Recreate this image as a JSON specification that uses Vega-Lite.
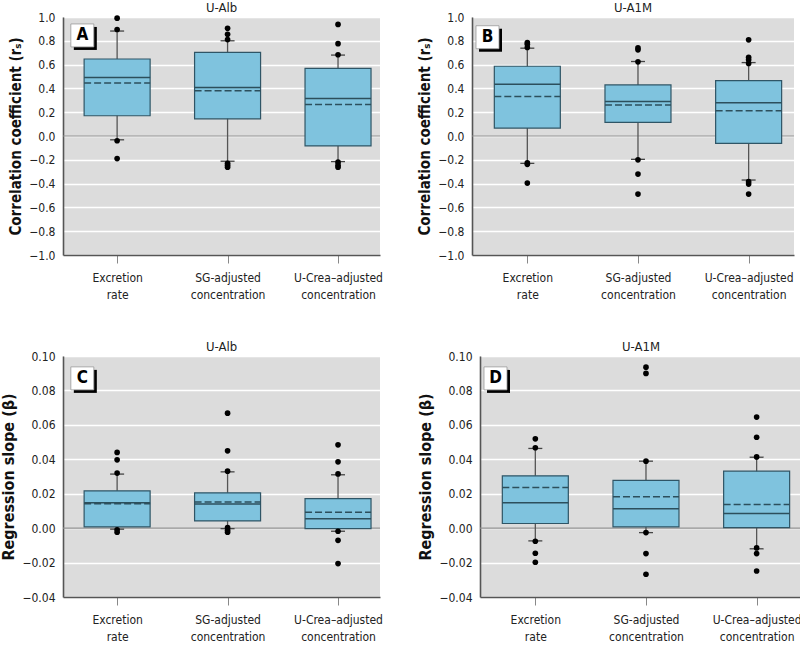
{
  "$schema": "https://vega.github.io/schema/vega-lite/v6.json",
  "background": "white",
  "padding": {"left": 0, "top": 2, "right": 0, "bottom": 0},
  "spacing": 41,
  "datasets": {
    "stats": [
      {"panel": "A", "cat": "Excretion rate", "lo": -0.032, "q1": 0.170, "med": 0.492, "mean": 0.445, "q3": 0.647, "hi": 0.882},
      {"panel": "A", "cat": "SG-adjusted concentration", "lo": -0.212, "q1": 0.144, "med": 0.408, "mean": 0.380, "q3": 0.703, "hi": 0.800},
      {"panel": "A", "cat": "U-Crea–adjusted concentration", "lo": -0.215, "q1": -0.083, "med": 0.316, "mean": 0.265, "q3": 0.568, "hi": 0.680},
      {"panel": "B", "cat": "Excretion rate", "lo": -0.230, "q1": 0.067, "med": 0.435, "mean": 0.331, "q3": 0.586, "hi": 0.738},
      {"panel": "B", "cat": "SG-adjusted concentration", "lo": -0.196, "q1": 0.115, "med": 0.289, "mean": 0.261, "q3": 0.429, "hi": 0.626},
      {"panel": "B", "cat": "U-Crea–adjusted concentration", "lo": -0.370, "q1": -0.062, "med": 0.280, "mean": 0.213, "q3": 0.466, "hi": 0.617},
      {"panel": "C", "cat": "Excretion rate", "lo": -0.0006, "q1": 0.0007, "med": 0.0147, "mean": 0.0141, "q3": 0.0217, "hi": 0.0314},
      {"panel": "C", "cat": "SG-adjusted concentration", "lo": -0.0003, "q1": 0.0042, "med": 0.0140, "mean": 0.0152, "q3": 0.0205, "hi": 0.0327},
      {"panel": "C", "cat": "U-Crea–adjusted concentration", "lo": -0.0018, "q1": -0.0003, "med": 0.0054, "mean": 0.0092, "q3": 0.0172, "hi": 0.0310},
      {"panel": "D", "cat": "Excretion rate", "lo": -0.0074, "q1": 0.0027, "med": 0.0147, "mean": 0.0236, "q3": 0.0304, "hi": 0.0463},
      {"panel": "D", "cat": "SG-adjusted concentration", "lo": -0.0026, "q1": 0.0007, "med": 0.0112, "mean": 0.0182, "q3": 0.0277, "hi": 0.0389},
      {"panel": "D", "cat": "U-Crea–adjusted concentration", "lo": -0.0120, "q1": 0.0003, "med": 0.0085, "mean": 0.0137, "q3": 0.0331, "hi": 0.0412}
    ],
    "outliers": [
      {"panel": "A", "cat": "Excretion rate", "v": 0.99},
      {"panel": "A", "cat": "Excretion rate", "v": 0.895},
      {"panel": "A", "cat": "Excretion rate", "v": -0.04},
      {"panel": "A", "cat": "Excretion rate", "v": -0.19},
      {"panel": "A", "cat": "SG-adjusted concentration", "v": 0.905},
      {"panel": "A", "cat": "SG-adjusted concentration", "v": 0.854},
      {"panel": "A", "cat": "SG-adjusted concentration", "v": 0.81},
      {"panel": "A", "cat": "SG-adjusted concentration", "v": -0.229},
      {"panel": "A", "cat": "SG-adjusted concentration", "v": -0.245},
      {"panel": "A", "cat": "SG-adjusted concentration", "v": -0.262},
      {"panel": "A", "cat": "U-Crea–adjusted concentration", "v": 0.938},
      {"panel": "A", "cat": "U-Crea–adjusted concentration", "v": 0.776},
      {"panel": "A", "cat": "U-Crea–adjusted concentration", "v": 0.683},
      {"panel": "A", "cat": "U-Crea–adjusted concentration", "v": -0.22},
      {"panel": "A", "cat": "U-Crea–adjusted concentration", "v": -0.245},
      {"panel": "A", "cat": "U-Crea–adjusted concentration", "v": -0.262},
      {"panel": "B", "cat": "Excretion rate", "v": 0.785},
      {"panel": "B", "cat": "Excretion rate", "v": 0.77},
      {"panel": "B", "cat": "Excretion rate", "v": 0.744},
      {"panel": "B", "cat": "Excretion rate", "v": -0.225},
      {"panel": "B", "cat": "Excretion rate", "v": -0.238},
      {"panel": "B", "cat": "Excretion rate", "v": -0.396},
      {"panel": "B", "cat": "SG-adjusted concentration", "v": 0.74},
      {"panel": "B", "cat": "SG-adjusted concentration", "v": 0.724},
      {"panel": "B", "cat": "SG-adjusted concentration", "v": 0.623},
      {"panel": "B", "cat": "SG-adjusted concentration", "v": -0.2},
      {"panel": "B", "cat": "SG-adjusted concentration", "v": -0.32},
      {"panel": "B", "cat": "SG-adjusted concentration", "v": -0.488},
      {"panel": "B", "cat": "U-Crea–adjusted concentration", "v": 0.808},
      {"panel": "B", "cat": "U-Crea–adjusted concentration", "v": 0.662},
      {"panel": "B", "cat": "U-Crea–adjusted concentration", "v": 0.64},
      {"panel": "B", "cat": "U-Crea–adjusted concentration", "v": 0.61},
      {"panel": "B", "cat": "U-Crea–adjusted concentration", "v": -0.384},
      {"panel": "B", "cat": "U-Crea–adjusted concentration", "v": -0.404},
      {"panel": "B", "cat": "U-Crea–adjusted concentration", "v": -0.488},
      {"panel": "C", "cat": "Excretion rate", "v": 0.044},
      {"panel": "C", "cat": "Excretion rate", "v": 0.0397},
      {"panel": "C", "cat": "Excretion rate", "v": 0.032},
      {"panel": "C", "cat": "Excretion rate", "v": -0.001},
      {"panel": "C", "cat": "Excretion rate", "v": -0.0024},
      {"panel": "C", "cat": "SG-adjusted concentration", "v": 0.0668},
      {"panel": "C", "cat": "SG-adjusted concentration", "v": 0.0449},
      {"panel": "C", "cat": "SG-adjusted concentration", "v": 0.0331},
      {"panel": "C", "cat": "SG-adjusted concentration", "v": 0.0003},
      {"panel": "C", "cat": "SG-adjusted concentration", "v": -0.0012},
      {"panel": "C", "cat": "SG-adjusted concentration", "v": -0.0024},
      {"panel": "C", "cat": "U-Crea–adjusted concentration", "v": 0.0484},
      {"panel": "C", "cat": "U-Crea–adjusted concentration", "v": 0.0385},
      {"panel": "C", "cat": "U-Crea–adjusted concentration", "v": 0.0315},
      {"panel": "C", "cat": "U-Crea–adjusted concentration", "v": -0.0018},
      {"panel": "C", "cat": "U-Crea–adjusted concentration", "v": -0.0071},
      {"panel": "C", "cat": "U-Crea–adjusted concentration", "v": -0.0206},
      {"panel": "D", "cat": "Excretion rate", "v": 0.0519},
      {"panel": "D", "cat": "Excretion rate", "v": 0.0467},
      {"panel": "D", "cat": "Excretion rate", "v": -0.0076},
      {"panel": "D", "cat": "Excretion rate", "v": -0.0146},
      {"panel": "D", "cat": "Excretion rate", "v": -0.0198},
      {"panel": "D", "cat": "SG-adjusted concentration", "v": 0.0935},
      {"panel": "D", "cat": "SG-adjusted concentration", "v": 0.0899},
      {"panel": "D", "cat": "SG-adjusted concentration", "v": 0.0389},
      {"panel": "D", "cat": "SG-adjusted concentration", "v": -0.0026},
      {"panel": "D", "cat": "SG-adjusted concentration", "v": -0.0148},
      {"panel": "D", "cat": "SG-adjusted concentration", "v": -0.0268},
      {"panel": "D", "cat": "U-Crea–adjusted concentration", "v": 0.0645},
      {"panel": "D", "cat": "U-Crea–adjusted concentration", "v": 0.0528},
      {"panel": "D", "cat": "U-Crea–adjusted concentration", "v": 0.0414},
      {"panel": "D", "cat": "U-Crea–adjusted concentration", "v": -0.0115},
      {"panel": "D", "cat": "U-Crea–adjusted concentration", "v": -0.0148},
      {"panel": "D", "cat": "U-Crea–adjusted concentration", "v": -0.0249}
    ]
  },
  "vconcat": [
    {
      "hconcat": [
        {
          "width": 317, "height": 238,
          "title": "U-Alb",
          "layer": [
            {"data": {"values": [{}]}, "mark": {"type": "rule", "color": "#8c8c8c", "strokeWidth": 1.2}, "encoding": {"y": {"datum": 0, "type": "quantitative"}}},
            {"data": {"name": "stats"}, "transform": [{"filter": "datum.panel == 'A'"}, {"calculate": "indexof(['Excretion rate','SG-adjusted concentration','U-Crea–adjusted concentration'], datum.cat) + 1", "as": "pos"}],
             "mark": {"type": "rule", "color": "#555555", "strokeWidth": 1.3},
             "encoding": {
               "x": {"field": "pos", "type": "quantitative", "scale": {"domain": [0.51, 3.38], "nice": false, "zero": false, "padding": 0},
                     "axis": {"values": [1, 2, 3], "tickCount": 10, "labelExpr": "datum.value == 1 ? ['Excretion', 'rate'] : datum.value == 2 ? ['SG-adjusted', 'concentration'] : ['U-Crea–adjusted', 'concentration']"}},
               "y": {"field": "lo", "type": "quantitative", "scale": {"domain": [-1, 1], "nice": false, "zero": false, "padding": 0},
                     "axis": {"values": [-1, -0.8, -0.6, -0.4, -0.2, 0, 0.2, 0.4, 0.6, 0.8, 1], "tickCount": 30, "format": ".1f", "title": "Correlation coefficient (rₛ)"}},
               "y2": {"field": "hi"}
             }},
            {"data": {"name": "stats"}, "transform": [{"filter": "datum.panel == 'A'"}, {"calculate": "indexof(['Excretion rate','SG-adjusted concentration','U-Crea–adjusted concentration'], datum.cat) + 1", "as": "pos"}],
             "mark": {"type": "rule", "color": "#444444", "strokeWidth": 1.3, "xOffset": -7, "x2Offset": 7},
             "encoding": {"x": {"field": "pos", "type": "quantitative"}, "x2": {"field": "pos"}, "y": {"field": "hi", "type": "quantitative"}}},
            {"data": {"name": "stats"}, "transform": [{"filter": "datum.panel == 'A'"}, {"calculate": "indexof(['Excretion rate','SG-adjusted concentration','U-Crea–adjusted concentration'], datum.cat) + 1", "as": "pos"}],
             "mark": {"type": "rule", "color": "#444444", "strokeWidth": 1.3, "xOffset": -7, "x2Offset": 7},
             "encoding": {"x": {"field": "pos", "type": "quantitative"}, "x2": {"field": "pos"}, "y": {"field": "lo", "type": "quantitative"}}},
            {"data": {"name": "stats"}, "transform": [{"filter": "datum.panel == 'A'"}, {"calculate": "indexof(['Excretion rate','SG-adjusted concentration','U-Crea–adjusted concentration'], datum.cat) + 1", "as": "pos"}],
             "mark": {"type": "bar", "width": 66, "fill": "#7fc3de", "stroke": "#2f5566", "strokeWidth": 1.2},
             "encoding": {"x": {"field": "pos", "type": "quantitative"}, "y": {"field": "q1", "type": "quantitative"}, "y2": {"field": "q3"}}},
            {"data": {"name": "stats"}, "transform": [{"filter": "datum.panel == 'A'"}, {"calculate": "indexof(['Excretion rate','SG-adjusted concentration','U-Crea–adjusted concentration'], datum.cat) + 1", "as": "pos"}],
             "mark": {"type": "rule", "color": "#2c4f5c", "strokeWidth": 1.5, "xOffset": -33, "x2Offset": 33},
             "encoding": {"x": {"field": "pos", "type": "quantitative"}, "x2": {"field": "pos"}, "y": {"field": "med", "type": "quantitative"}}},
            {"data": {"name": "stats"}, "transform": [{"filter": "datum.panel == 'A'"}, {"calculate": "indexof(['Excretion rate','SG-adjusted concentration','U-Crea–adjusted concentration'], datum.cat) + 1", "as": "pos"}],
             "mark": {"type": "rule", "color": "#2c4f5c", "strokeWidth": 1.5, "strokeDash": [7, 3], "xOffset": -33, "x2Offset": 33},
             "encoding": {"x": {"field": "pos", "type": "quantitative"}, "x2": {"field": "pos"}, "y": {"field": "mean", "type": "quantitative"}}},
            {"data": {"name": "outliers"}, "transform": [{"filter": "datum.panel == 'A'"}, {"calculate": "indexof(['Excretion rate','SG-adjusted concentration','U-Crea–adjusted concentration'], datum.cat) + 1", "as": "pos"}],
             "mark": {"type": "point", "filled": true, "color": "black", "size": 32, "opacity": 1},
             "encoding": {"x": {"field": "pos", "type": "quantitative"}, "y": {"field": "v", "type": "quantitative"}}},
            {"data": {"values": [{}]}, "mark": {"type": "point", "shape": "square", "size": 529, "filled": true, "color": "black", "opacity": 1, "xOffset": 3, "yOffset": 3},
             "encoding": {"x": {"datum": 0.685, "type": "quantitative"}, "y": {"datum": 0.845, "type": "quantitative"}}},
            {"data": {"values": [{}]}, "mark": {"type": "point", "shape": "square", "size": 529, "filled": true, "fill": "white", "stroke": "#999999", "strokeWidth": 0.8, "opacity": 1},
             "encoding": {"x": {"datum": 0.685, "type": "quantitative"}, "y": {"datum": 0.845, "type": "quantitative"}}},
            {"data": {"values": [{}]}, "mark": {"type": "text", "text": "A", "fontSize": 17, "fontWeight": "bold", "color": "black", "baseline": "middle", "align": "center"},
             "encoding": {"x": {"datum": 0.685, "type": "quantitative"}, "y": {"datum": 0.845, "type": "quantitative"}}}
          ]
        },
        {
          "width": 322, "height": 238,
          "title": "U-A1M",
          "layer": [
            {"data": {"values": [{}]}, "mark": {"type": "rule", "color": "#8c8c8c", "strokeWidth": 1.2}, "encoding": {"y": {"datum": 0, "type": "quantitative"}}},
            {"data": {"name": "stats"}, "transform": [{"filter": "datum.panel == 'B'"}, {"calculate": "indexof(['Excretion rate','SG-adjusted concentration','U-Crea–adjusted concentration'], datum.cat) + 1", "as": "pos"}],
             "mark": {"type": "rule", "color": "#555555", "strokeWidth": 1.3},
             "encoding": {
               "x": {"field": "pos", "type": "quantitative", "scale": {"domain": [0.5, 3.41], "nice": false, "zero": false, "padding": 0},
                     "axis": {"values": [1, 2, 3], "tickCount": 10, "labelExpr": "datum.value == 1 ? ['Excretion', 'rate'] : datum.value == 2 ? ['SG-adjusted', 'concentration'] : ['U-Crea–adjusted', 'concentration']"}},
               "y": {"field": "lo", "type": "quantitative", "scale": {"domain": [-1, 1], "nice": false, "zero": false, "padding": 0},
                     "axis": {"values": [-1, -0.8, -0.6, -0.4, -0.2, 0, 0.2, 0.4, 0.6, 0.8, 1], "tickCount": 30, "format": ".1f", "title": "Correlation coefficient (rₛ)"}},
               "y2": {"field": "hi"}
             }},
            {"data": {"name": "stats"}, "transform": [{"filter": "datum.panel == 'B'"}, {"calculate": "indexof(['Excretion rate','SG-adjusted concentration','U-Crea–adjusted concentration'], datum.cat) + 1", "as": "pos"}],
             "mark": {"type": "rule", "color": "#444444", "strokeWidth": 1.3, "xOffset": -7, "x2Offset": 7},
             "encoding": {"x": {"field": "pos", "type": "quantitative"}, "x2": {"field": "pos"}, "y": {"field": "hi", "type": "quantitative"}}},
            {"data": {"name": "stats"}, "transform": [{"filter": "datum.panel == 'B'"}, {"calculate": "indexof(['Excretion rate','SG-adjusted concentration','U-Crea–adjusted concentration'], datum.cat) + 1", "as": "pos"}],
             "mark": {"type": "rule", "color": "#444444", "strokeWidth": 1.3, "xOffset": -7, "x2Offset": 7},
             "encoding": {"x": {"field": "pos", "type": "quantitative"}, "x2": {"field": "pos"}, "y": {"field": "lo", "type": "quantitative"}}},
            {"data": {"name": "stats"}, "transform": [{"filter": "datum.panel == 'B'"}, {"calculate": "indexof(['Excretion rate','SG-adjusted concentration','U-Crea–adjusted concentration'], datum.cat) + 1", "as": "pos"}],
             "mark": {"type": "bar", "width": 66, "fill": "#7fc3de", "stroke": "#2f5566", "strokeWidth": 1.2},
             "encoding": {"x": {"field": "pos", "type": "quantitative"}, "y": {"field": "q1", "type": "quantitative"}, "y2": {"field": "q3"}}},
            {"data": {"name": "stats"}, "transform": [{"filter": "datum.panel == 'B'"}, {"calculate": "indexof(['Excretion rate','SG-adjusted concentration','U-Crea–adjusted concentration'], datum.cat) + 1", "as": "pos"}],
             "mark": {"type": "rule", "color": "#2c4f5c", "strokeWidth": 1.5, "xOffset": -33, "x2Offset": 33},
             "encoding": {"x": {"field": "pos", "type": "quantitative"}, "x2": {"field": "pos"}, "y": {"field": "med", "type": "quantitative"}}},
            {"data": {"name": "stats"}, "transform": [{"filter": "datum.panel == 'B'"}, {"calculate": "indexof(['Excretion rate','SG-adjusted concentration','U-Crea–adjusted concentration'], datum.cat) + 1", "as": "pos"}],
             "mark": {"type": "rule", "color": "#2c4f5c", "strokeWidth": 1.5, "strokeDash": [7, 3], "xOffset": -33, "x2Offset": 33},
             "encoding": {"x": {"field": "pos", "type": "quantitative"}, "x2": {"field": "pos"}, "y": {"field": "mean", "type": "quantitative"}}},
            {"data": {"name": "outliers"}, "transform": [{"filter": "datum.panel == 'B'"}, {"calculate": "indexof(['Excretion rate','SG-adjusted concentration','U-Crea–adjusted concentration'], datum.cat) + 1", "as": "pos"}],
             "mark": {"type": "point", "filled": true, "color": "black", "size": 32, "opacity": 1},
             "encoding": {"x": {"field": "pos", "type": "quantitative"}, "y": {"field": "v", "type": "quantitative"}}},
            {"data": {"values": [{}]}, "mark": {"type": "point", "shape": "square", "size": 529, "filled": true, "color": "black", "opacity": 1, "xOffset": 3, "yOffset": 3},
             "encoding": {"x": {"datum": 0.64, "type": "quantitative"}, "y": {"datum": 0.83, "type": "quantitative"}}},
            {"data": {"values": [{}]}, "mark": {"type": "point", "shape": "square", "size": 529, "filled": true, "fill": "white", "stroke": "#999999", "strokeWidth": 0.8, "opacity": 1},
             "encoding": {"x": {"datum": 0.64, "type": "quantitative"}, "y": {"datum": 0.83, "type": "quantitative"}}},
            {"data": {"values": [{}]}, "mark": {"type": "text", "text": "B", "fontSize": 17, "fontWeight": "bold", "color": "black", "baseline": "middle", "align": "center"},
             "encoding": {"x": {"datum": 0.64, "type": "quantitative"}, "y": {"datum": 0.83, "type": "quantitative"}}}
          ]
        }
      ]
    },
    {
      "hconcat": [
        {
          "width": 317, "height": 241,
          "title": "U-Alb",
          "layer": [
            {"data": {"values": [{}]}, "mark": {"type": "rule", "color": "#8c8c8c", "strokeWidth": 1.2}, "encoding": {"y": {"datum": 0, "type": "quantitative"}}},
            {"data": {"name": "stats"}, "transform": [{"filter": "datum.panel == 'C'"}, {"calculate": "indexof(['Excretion rate','SG-adjusted concentration','U-Crea–adjusted concentration'], datum.cat) + 1", "as": "pos"}],
             "mark": {"type": "rule", "color": "#555555", "strokeWidth": 1.3},
             "encoding": {
               "x": {"field": "pos", "type": "quantitative", "scale": {"domain": [0.51, 3.38], "nice": false, "zero": false, "padding": 0},
                     "axis": {"values": [1, 2, 3], "tickCount": 10, "labelExpr": "datum.value == 1 ? ['Excretion', 'rate'] : datum.value == 2 ? ['SG-adjusted', 'concentration'] : ['U-Crea–adjusted', 'concentration']"}},
               "y": {"field": "lo", "type": "quantitative", "scale": {"domain": [-0.04, 0.1], "nice": false, "zero": false, "padding": 0},
                     "axis": {"values": [-0.04, -0.02, 0, 0.02, 0.04, 0.06, 0.08, 0.1], "tickCount": 30, "format": ".2f", "title": "Regression slope (β)", "titleFontSize": 16}},
               "y2": {"field": "hi"}
             }},
            {"data": {"name": "stats"}, "transform": [{"filter": "datum.panel == 'C'"}, {"calculate": "indexof(['Excretion rate','SG-adjusted concentration','U-Crea–adjusted concentration'], datum.cat) + 1", "as": "pos"}],
             "mark": {"type": "rule", "color": "#444444", "strokeWidth": 1.3, "xOffset": -7, "x2Offset": 7},
             "encoding": {"x": {"field": "pos", "type": "quantitative"}, "x2": {"field": "pos"}, "y": {"field": "hi", "type": "quantitative"}}},
            {"data": {"name": "stats"}, "transform": [{"filter": "datum.panel == 'C'"}, {"calculate": "indexof(['Excretion rate','SG-adjusted concentration','U-Crea–adjusted concentration'], datum.cat) + 1", "as": "pos"}],
             "mark": {"type": "rule", "color": "#444444", "strokeWidth": 1.3, "xOffset": -7, "x2Offset": 7},
             "encoding": {"x": {"field": "pos", "type": "quantitative"}, "x2": {"field": "pos"}, "y": {"field": "lo", "type": "quantitative"}}},
            {"data": {"name": "stats"}, "transform": [{"filter": "datum.panel == 'C'"}, {"calculate": "indexof(['Excretion rate','SG-adjusted concentration','U-Crea–adjusted concentration'], datum.cat) + 1", "as": "pos"}],
             "mark": {"type": "bar", "width": 66, "fill": "#7fc3de", "stroke": "#2f5566", "strokeWidth": 1.2},
             "encoding": {"x": {"field": "pos", "type": "quantitative"}, "y": {"field": "q1", "type": "quantitative"}, "y2": {"field": "q3"}}},
            {"data": {"name": "stats"}, "transform": [{"filter": "datum.panel == 'C'"}, {"calculate": "indexof(['Excretion rate','SG-adjusted concentration','U-Crea–adjusted concentration'], datum.cat) + 1", "as": "pos"}],
             "mark": {"type": "rule", "color": "#2c4f5c", "strokeWidth": 1.5, "xOffset": -33, "x2Offset": 33},
             "encoding": {"x": {"field": "pos", "type": "quantitative"}, "x2": {"field": "pos"}, "y": {"field": "med", "type": "quantitative"}}},
            {"data": {"name": "stats"}, "transform": [{"filter": "datum.panel == 'C'"}, {"calculate": "indexof(['Excretion rate','SG-adjusted concentration','U-Crea–adjusted concentration'], datum.cat) + 1", "as": "pos"}],
             "mark": {"type": "rule", "color": "#2c4f5c", "strokeWidth": 1.5, "strokeDash": [7, 3], "xOffset": -33, "x2Offset": 33},
             "encoding": {"x": {"field": "pos", "type": "quantitative"}, "x2": {"field": "pos"}, "y": {"field": "mean", "type": "quantitative"}}},
            {"data": {"name": "outliers"}, "transform": [{"filter": "datum.panel == 'C'"}, {"calculate": "indexof(['Excretion rate','SG-adjusted concentration','U-Crea–adjusted concentration'], datum.cat) + 1", "as": "pos"}],
             "mark": {"type": "point", "filled": true, "color": "black", "size": 32, "opacity": 1},
             "encoding": {"x": {"field": "pos", "type": "quantitative"}, "y": {"field": "v", "type": "quantitative"}}},
            {"data": {"values": [{}]}, "mark": {"type": "point", "shape": "square", "size": 529, "filled": true, "color": "black", "opacity": 1, "xOffset": 3, "yOffset": 3},
             "encoding": {"x": {"datum": 0.685, "type": "quantitative"}, "y": {"datum": 0.087, "type": "quantitative"}}},
            {"data": {"values": [{}]}, "mark": {"type": "point", "shape": "square", "size": 529, "filled": true, "fill": "white", "stroke": "#999999", "strokeWidth": 0.8, "opacity": 1},
             "encoding": {"x": {"datum": 0.685, "type": "quantitative"}, "y": {"datum": 0.087, "type": "quantitative"}}},
            {"data": {"values": [{}]}, "mark": {"type": "text", "text": "C", "fontSize": 17, "fontWeight": "bold", "color": "black", "baseline": "middle", "align": "center"},
             "encoding": {"x": {"datum": 0.685, "type": "quantitative"}, "y": {"datum": 0.087, "type": "quantitative"}}}
          ]
        },
        {
          "width": 322, "height": 241,
          "title": "U-A1M",
          "layer": [
            {"data": {"values": [{}]}, "mark": {"type": "rule", "color": "#8c8c8c", "strokeWidth": 1.2}, "encoding": {"y": {"datum": 0, "type": "quantitative"}}},
            {"data": {"name": "stats"}, "transform": [{"filter": "datum.panel == 'D'"}, {"calculate": "indexof(['Excretion rate','SG-adjusted concentration','U-Crea–adjusted concentration'], datum.cat) + 1", "as": "pos"}],
             "mark": {"type": "rule", "color": "#555555", "strokeWidth": 1.3},
             "encoding": {
               "x": {"field": "pos", "type": "quantitative", "scale": {"domain": [0.5, 3.41], "nice": false, "zero": false, "padding": 0},
                     "axis": {"values": [1, 2, 3], "tickCount": 10, "labelExpr": "datum.value == 1 ? ['Excretion', 'rate'] : datum.value == 2 ? ['SG-adjusted', 'concentration'] : ['U-Crea–adjusted', 'concentration']"}},
               "y": {"field": "lo", "type": "quantitative", "scale": {"domain": [-0.04, 0.1], "nice": false, "zero": false, "padding": 0},
                     "axis": {"values": [-0.04, -0.02, 0, 0.02, 0.04, 0.06, 0.08, 0.1], "tickCount": 30, "format": ".2f", "title": "Regression slope (β)", "titleFontSize": 16}},
               "y2": {"field": "hi"}
             }},
            {"data": {"name": "stats"}, "transform": [{"filter": "datum.panel == 'D'"}, {"calculate": "indexof(['Excretion rate','SG-adjusted concentration','U-Crea–adjusted concentration'], datum.cat) + 1", "as": "pos"}],
             "mark": {"type": "rule", "color": "#444444", "strokeWidth": 1.3, "xOffset": -7, "x2Offset": 7},
             "encoding": {"x": {"field": "pos", "type": "quantitative"}, "x2": {"field": "pos"}, "y": {"field": "hi", "type": "quantitative"}}},
            {"data": {"name": "stats"}, "transform": [{"filter": "datum.panel == 'D'"}, {"calculate": "indexof(['Excretion rate','SG-adjusted concentration','U-Crea–adjusted concentration'], datum.cat) + 1", "as": "pos"}],
             "mark": {"type": "rule", "color": "#444444", "strokeWidth": 1.3, "xOffset": -7, "x2Offset": 7},
             "encoding": {"x": {"field": "pos", "type": "quantitative"}, "x2": {"field": "pos"}, "y": {"field": "lo", "type": "quantitative"}}},
            {"data": {"name": "stats"}, "transform": [{"filter": "datum.panel == 'D'"}, {"calculate": "indexof(['Excretion rate','SG-adjusted concentration','U-Crea–adjusted concentration'], datum.cat) + 1", "as": "pos"}],
             "mark": {"type": "bar", "width": 66, "fill": "#7fc3de", "stroke": "#2f5566", "strokeWidth": 1.2},
             "encoding": {"x": {"field": "pos", "type": "quantitative"}, "y": {"field": "q1", "type": "quantitative"}, "y2": {"field": "q3"}}},
            {"data": {"name": "stats"}, "transform": [{"filter": "datum.panel == 'D'"}, {"calculate": "indexof(['Excretion rate','SG-adjusted concentration','U-Crea–adjusted concentration'], datum.cat) + 1", "as": "pos"}],
             "mark": {"type": "rule", "color": "#2c4f5c", "strokeWidth": 1.5, "xOffset": -33, "x2Offset": 33},
             "encoding": {"x": {"field": "pos", "type": "quantitative"}, "x2": {"field": "pos"}, "y": {"field": "med", "type": "quantitative"}}},
            {"data": {"name": "stats"}, "transform": [{"filter": "datum.panel == 'D'"}, {"calculate": "indexof(['Excretion rate','SG-adjusted concentration','U-Crea–adjusted concentration'], datum.cat) + 1", "as": "pos"}],
             "mark": {"type": "rule", "color": "#2c4f5c", "strokeWidth": 1.5, "strokeDash": [7, 3], "xOffset": -33, "x2Offset": 33},
             "encoding": {"x": {"field": "pos", "type": "quantitative"}, "x2": {"field": "pos"}, "y": {"field": "mean", "type": "quantitative"}}},
            {"data": {"name": "outliers"}, "transform": [{"filter": "datum.panel == 'D'"}, {"calculate": "indexof(['Excretion rate','SG-adjusted concentration','U-Crea–adjusted concentration'], datum.cat) + 1", "as": "pos"}],
             "mark": {"type": "point", "filled": true, "color": "black", "size": 32, "opacity": 1},
             "encoding": {"x": {"field": "pos", "type": "quantitative"}, "y": {"field": "v", "type": "quantitative"}}},
            {"data": {"values": [{}]}, "mark": {"type": "point", "shape": "square", "size": 529, "filled": true, "color": "black", "opacity": 1, "xOffset": 3, "yOffset": 3},
             "encoding": {"x": {"datum": 0.64, "type": "quantitative"}, "y": {"datum": 0.087, "type": "quantitative"}}},
            {"data": {"values": [{}]}, "mark": {"type": "point", "shape": "square", "size": 529, "filled": true, "fill": "white", "stroke": "#999999", "strokeWidth": 0.8, "opacity": 1},
             "encoding": {"x": {"datum": 0.64, "type": "quantitative"}, "y": {"datum": 0.087, "type": "quantitative"}}},
            {"data": {"values": [{}]}, "mark": {"type": "text", "text": "D", "fontSize": 17, "fontWeight": "bold", "color": "black", "baseline": "middle", "align": "center"},
             "encoding": {"x": {"datum": 0.64, "type": "quantitative"}, "y": {"datum": 0.087, "type": "quantitative"}}}
          ]
        }
      ]
    }
  ],
  "config": {
    "font": "DejaVu Sans Condensed, sans-serif",
    "view": {"fill": "#dcdcdc", "stroke": null},
    "concat": {"spacing": 34},
    "title": {"fontSize": 13, "fontWeight": "normal", "offset": -4, "color": "#222222", "frame": "group", "font": "DejaVu Sans Condensed, sans-serif"},
    "axis": {"labelFont": "DejaVu Sans Condensed, sans-serif", "labelFontSize": 12, "labelColor": "#222222", "labelOverlap": false,
             "titleFont": "DejaVu Sans Condensed, sans-serif", "titleFontSize": 15, "titleFontWeight": "bold", "titleColor": "#111111",
             "domainColor": "#555555", "domainWidth": 1.6},
    "axisY": {"ticks": false, "grid": true, "gridColor": "white", "gridWidth": 1.5, "labelPadding": 8, "titlePadding": 5},
    "axisX": {"grid": false, "tickSize": 8, "tickColor": "#888888", "tickWidth": 1, "labelPadding": 9, "labelFontSize": 12, "labelLineHeight": 17, "title": null, "labelBaseline": "top"}
  }
}
